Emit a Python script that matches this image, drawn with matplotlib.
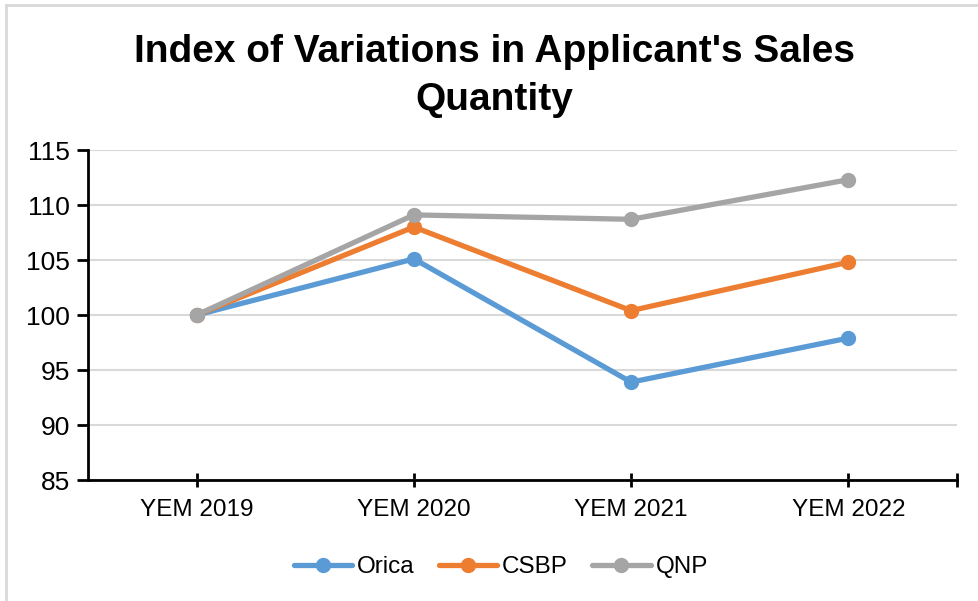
import matplotlib
matplotlib.use("Agg")
import matplotlib.pyplot as plt
from matplotlib.lines import Line2D

plt.rcParams.update({
    "font.family": "Liberation Sans",
    "text.color": "#000000",
})

categories = ["YEM 2019", "YEM 2020", "YEM 2021", "YEM 2022"]
orica = [100, 105.1, 93.9, 97.9]
csbp = [100, 108.0, 100.4, 104.8]
qnp = [100, 109.1, 108.7, 112.3]

series = [("Orica", orica, "#5B9BD5"),
          ("CSBP", csbp, "#ED7D31"),
          ("QNP", qnp, "#A5A5A5")]

fig = plt.figure(figsize=(9.79, 6.01), dpi=100)
ax = fig.add_axes([0.0899, 0.2013, 0.8876, 0.5491])

x = list(range(len(categories)))
for name, vals, col in series:
    ax.plot(x, vals, color=col, lw=3.8, marker="o", ms=10, label=name,
            solid_capstyle="round", clip_on=False)

ax.set_ylim(85, 115)
ax.set_yticks(range(85, 116, 5))
ax.set_xlim(-0.5, 3.5)
ax.set_xticks(x + [3.5])
ax.set_xticklabels(categories + [""])
ax.grid(axis="y", color="#D9D9D9", lw=1.5)
ax.set_axisbelow(True)
for s in ["top", "right"]:
    ax.spines[s].set_visible(False)
for s in ["left", "bottom"]:
    ax.spines[s].set_linewidth(2)
    ax.spines[s].set_color("black")
ax.tick_params(axis="y", labelsize=19, length=8, width=2, pad=5)
ax.tick_params(axis="x", labelsize=17.5, length=10, width=2, direction="inout", pad=9)

fig.text(0.505, 0.914, "Index of Variations in Applicant's Sales", ha="center", va="center",
         fontsize=28, fontweight="bold")
fig.text(0.505, 0.834, "Quantity", ha="center", va="center",
         fontsize=28, fontweight="bold")

ax.legend(loc="center", bbox_to_anchor=(0.475, -0.265), ncol=3, frameon=False,
          fontsize=17.5, handlelength=2.4, columnspacing=1.0, handletextpad=0.2)

# light chart border
fig.add_artist(Line2D([0.0066, 0.0066], [0, 0.9925], color="#D9D9D9", lw=2, transform=fig.transFigure))
fig.add_artist(Line2D([0.0066, 1], [0.9925, 0.9925], color="#D9D9D9", lw=2, transform=fig.transFigure))

fig.savefig("out.png", dpi=100)
